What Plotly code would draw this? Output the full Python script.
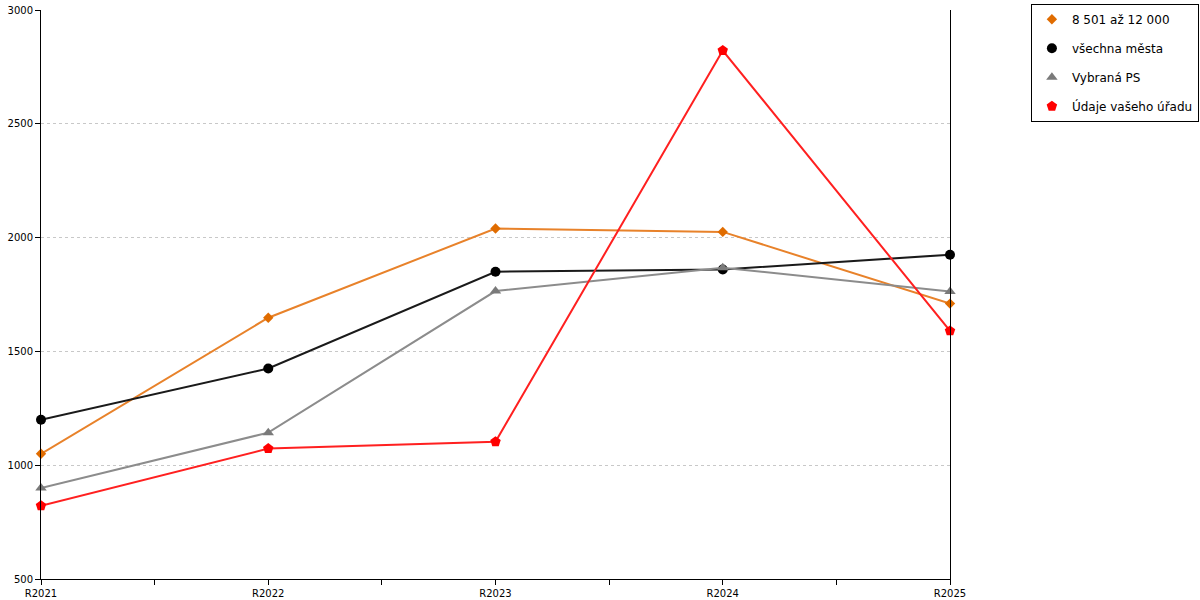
import plotly.graph_objects as go

# roky
years = ["R2021", "R2022", "R2023", "R2024", "R2025"]

# hodnoty podle skupin
mesta_8501 = [1050, 1648, 2040, 2025, 1710]
vsechna_mesta = [1200, 1425, 1850, 1860, 1925]
vybrana_ps = [900, 1143, 1765, 1868, 1763]
vas_urad = [822, 1073, 1103, 2822, 1590]

y_ticks = [500, 1000, 1500, 2000, 2500, 3000]

x_pos = list(range(len(years)))

series = [
    ("8 501 až 12 000", mesta_8501, "#e8822a", "#e06c00", "diamond", 8),
    ("všechna města", vsechna_mesta, "#1a1a1a", "#000000", "circle", 10),
    ("Vybraná PS", vybrana_ps, "#8c8c8c", "#7a7a7a", "triangle-up", 10),
    ("Údaje vašeho úřadu", vas_urad, "#ff2020", "#ff0000", "pentagon", 11),
]

fig = go.Figure()
for name, vals, lcol, mcol, sym, size in series:
    fig.add_trace(go.Scatter(
        x=x_pos, y=vals, name=name, mode="lines+markers",
        line=dict(color=lcol, width=2),
        marker=dict(color=mcol, symbol=sym, size=size),
        cliponaxis=False, showlegend=False,
    ))
    # legenda jen se symbolem
    fig.add_trace(go.Scatter(
        x=[None], y=[None], name=name, mode="markers",
        marker=dict(color=mcol, symbol=sym, size=size),
        legendgroup=name,
    ))

# tick marky i mezi roky
tvals = [i * 0.5 for i in range(2 * len(years) - 1)]
ttext = [years[int(v)] if v == int(v) else "" for v in tvals]

fig.update_layout(
    width=1200, height=600,
    margin=dict(l=41, r=250, t=10, b=21, autoexpand=False),
    plot_bgcolor="white", paper_bgcolor="white",
    font=dict(family="DejaVu Sans", size=10, color="black"),
    showlegend=True,
    legend=dict(
        x=1.089, y=1.011, xanchor="left", yanchor="top",
        bordercolor="black", borderwidth=1,
        font=dict(size=12), tracegroupgap=10,
    ),
    xaxis=dict(
        range=[0, len(years) - 1], tickvals=tvals, ticktext=ttext,
        showgrid=False, zeroline=False, automargin=False,
        showline=True, linecolor="black", linewidth=1,
        ticks="outside", ticklen=5, tickcolor="black",
    ),
    yaxis=dict(
        range=[500, 3000], tickvals=y_ticks, automargin=False,
        showgrid=True, gridcolor="#c8c8c8", griddash="dot", gridwidth=1,
        zeroline=False, showline=True, linecolor="black", linewidth=1,
        mirror=True, ticks="outside", ticklen=5, tickcolor="black",
    ),
)

# bez okraje stranky, aby graf sedel na 1200x600
fig.write_html("out.html", config={"displayModeBar": False},
               post_script="document.body.style.margin='0px';")
